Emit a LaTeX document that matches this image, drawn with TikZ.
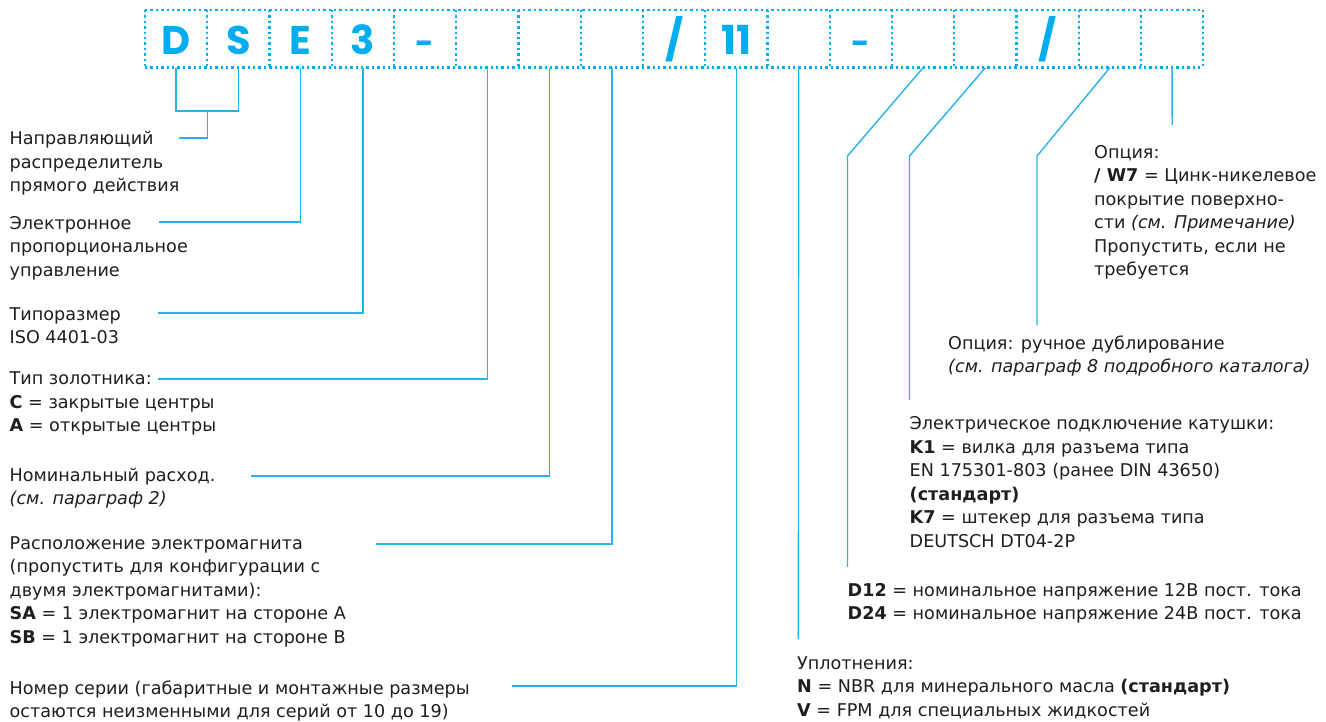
\documentclass[tikz,border=0pt]{standalone}
\usepackage{fontspec}
\setmainfont{DejaVu Sans}
\newfontfamily\bigfont{Poppins}
\definecolor{dsblue}{RGB}{0,174,239}
\definecolor{lnblue}{RGB}{38,178,236}
\definecolor{txt}{RGB}{30,30,30}
\begin{document}
\begin{tikzpicture}[x=1pt,y=-1pt,
  cell/.style={minimum width=62.25pt,minimum height=57.7pt,inner sep=0pt,outer sep=0pt,anchor=north west},
  big/.style={font=\bigfont\bfseries\fontsize{40}{40}\selectfont,text=dsblue,inner sep=0pt,anchor=base},
  bighyph/.style={big,font=\bigfont\bfseries\fontsize{32}{32}\selectfont},
  dotline/.style={dsblue,line width=2.4pt,dash pattern=on 2.4pt off 3pt},
  conn/.style={lnblue,line width=1.4pt},
  lbl/.style={anchor=north west,inner sep=0pt,align=left,text=txt,font=\fontsize{17.6}{23.5}\selectfont},
]
\useasboundingbox (0,0) rectangle (1326,722);

% code cells
\foreach \i in {1,...,17}
  \node[cell] (b\i) at ({145+62.25*(\i-1)},10) {};

\draw[dotline] (b1.north west) -- (b17.north east);
\draw[dotline] (b1.south west) -- (b17.south east);
\foreach \i in {1,...,17}
  \draw[dotline] (b\i.north west) -- (b\i.south west);
\draw[dotline] (b17.north east) -- (b17.south east);

% code letters
\node[big] (lD) at (b1.center |- 0,55) {D};
\node[big] (lS) at (b2.center |- 0,55) {S};
\node[big] (lE) at (b3.center |- 0,55) {E};
\node[big] (l3) at (b4.center |- 0,55) {3};
\node[bighyph] (lh1) at (b5.center |- 0,55) {-};
\node[big] (ls1) at (b9.center |- 0,55) {/};
\node[big] (l11) at (b10.center |- 0,55) {11};
\node[bighyph] (lh2) at (b12.center |- 0,55) {-};
\node[big] (ls2) at (b15.center |- 0,55) {/};

% connector end points
\coordinate (brk) at (207.3,111);
\coordinate (e1) at (179,138);
\coordinate (e2) at (159,222);
\coordinate (e3) at (158,313);
\coordinate (e4) at (158,379);
\coordinate (e5) at (251,476);
\coordinate (e6) at (376,544);
\coordinate (e7) at (512,686);
\coordinate (e8) at (798.4,639);
\coordinate (k1) at (847.5,156);
\coordinate (e9) at (847.5,567);
\coordinate (k2) at (909.5,156);
\coordinate (e10) at (909.5,400);
\coordinate (k3) at (1037,156);
\coordinate (e11) at (1037,325);
\coordinate (e12) at (1172.2,125);

% connectors
\draw[conn] (b1.south) -- (b1.south |- brk) -- (b2.south |- brk) -- (b2.south);
\draw[conn] (brk) |- (e1);
\draw[conn] (b3.south) |- (e2);
\draw[conn] (b4.south) |- (e3);
\draw[conn] (b6.south) |- (e4);
\draw[conn] (b7.south) |- (e5);
\draw[conn] (b8.south) |- (e6);
\draw[conn] (b10.south) |- (e7);
\draw[conn] (b11.south) -- (e8);
\draw[conn] (b13.south) -- (k1) -- (e9);
\draw[conn] (b14.south) -- (k2) -- (e10);
\draw[conn] (b16.south) -- (k3) -- (e11);
\draw[conn] (b17.south) -- (e12);

% left labels
\node[lbl] (t1) at (9.5,{144.5-16.45}) {\strut Направляющий\\распределитель\\прямого действия};
\node[lbl] (t2) at (9.5,{229-16.45}) {\strut Электронное\\пропорциональное\\управление};
\node[lbl] (t3) at (9.5,{320-16.45}) {\strut Типоразмер\\ISO 4401-03};
\node[lbl] (t4) at (9.5,{384.5-16.45}) {\strut Тип золотника:\\\textbf{C} = закрытые центры\\\textbf{A} = открытые центры};
\node[lbl] (t5) at (9.5,{481-16.45}) {\strut Номинальный расход.\\\textit{(см. параграф 2)}};
\node[lbl] (t6) at (9.5,{549-16.45}) {\strut Расположение электромагнита\\(пропустить для конфигурации с\\двумя электромагнитами):\\\textbf{SA} = 1 электромагнит на стороне A\\\textbf{SB} = 1 электромагнит на стороне B};
\node[lbl] (t7) at (9.5,{694-16.45}) {\strut Номер серии (габаритные и монтажные размеры\\остаются неизменными для серий от 10 до 19)};

% right labels
\node[lbl] (t8) at (1094,{158-16.45}) {\strut Опция:\\\textbf{/ W7} = Цинк-никелевое\\покрытие поверхно-\\сти \textit{(см. Примечание)}\\Пропустить, если не\\требуется};
\node[lbl] (t9) at (948,{349-16.45}) {\strut Опция: ручное дублирование\\\textit{(см. параграф 8 подробного каталога)}};
\node[lbl] (t10) at (909.5,{429.5-16.45}) {\strut Электрическое подключение катушки:\\\textbf{K1} = вилка для разъема типа\\EN 175301-803 (ранее DIN 43650)\\\textbf{(стандарт)}\\\textbf{K7} = штекер для разъема типа\\DEUTSCH DT04-2P};
\node[lbl] (t11) at (847.5,{596-16.45}) {\strut \textbf{D12} = номинальное напряжение 12В пост. тока\\\textbf{D24} = номинальное напряжение 24В пост. тока};
\node[lbl] (t12) at (797,{669-16.45}) {\strut Уплотнения:\\\textbf{N} = NBR для минерального масла \textbf{(стандарт)}\\\textbf{V} = FPM для специальных жидкостей};
\end{tikzpicture}
\end{document}
